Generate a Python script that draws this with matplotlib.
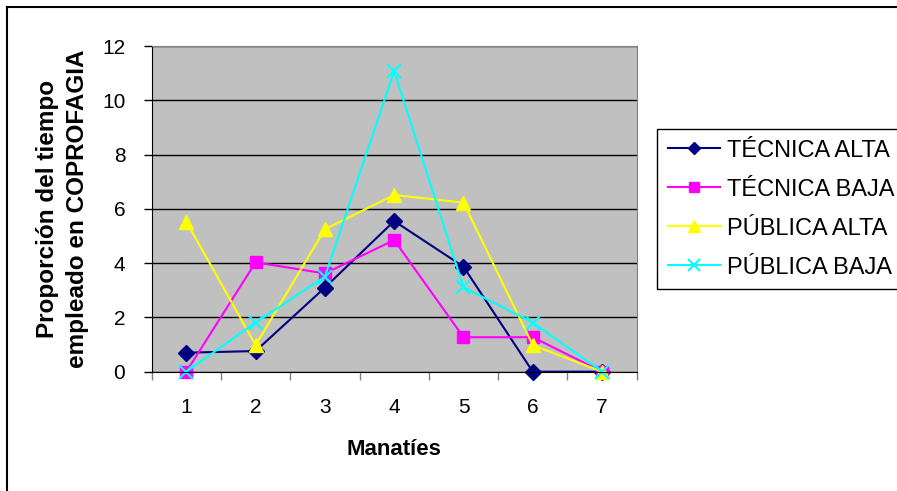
import matplotlib
matplotlib.use('Agg')
import matplotlib.pyplot as plt
from matplotlib.lines import Line2D

plt.rcParams['font.family'] = ['Liberation Sans', 'DejaVu Sans']

manaties = [1, 2, 3, 4, 5, 6, 7]
tecnica_alta = [0.70, 0.76, 3.10, 5.55, 3.87, 0.0, 0.0]
tecnica_baja = [0.0, 4.03, 3.62, 4.85, 1.27, 1.27, 0.0]
publica_alta = [5.53, 0.98, 5.25, 6.51, 6.23, 0.98, 0.0]
publica_baja = [0.0, 1.81, 3.50, 11.08, 3.11, 1.81, 0.0]
y_ticks = [0, 2, 4, 6, 8, 10, 12]

fig = plt.figure(figsize=(8.97, 4.91), dpi=100)
ax = fig.add_axes([0.1691, 0.2430, 0.5407, 0.6633])
ax.set_facecolor('#C0C0C0')

ax.plot(manaties, tecnica_alta, color='#000080', marker='D', markersize=8, linewidth=1.5, label='TÉCNICA ALTA', clip_on=False)
ax.plot(manaties, tecnica_baja, color='#FF00FF', marker='s', markersize=8.5, linewidth=1.5, label='TÉCNICA BAJA', clip_on=False)
ax.plot(manaties, publica_alta, color='#FFFF00', marker='^', markersize=10, linewidth=1.5, label='PÚBLICA ALTA', clip_on=False)
ax.plot(manaties, publica_baja, color='#00FFFF', marker='x', markersize=10, markeredgewidth=1.5, linewidth=1.5, label='PÚBLICA BAJA', clip_on=False)

ax.set_xlim(0.5, 7.5)
ax.set_ylim(0, 12)
ax.set_yticks(y_ticks)
ax.set_xticks(manaties)
ax.set_xticks([i + 0.5 for i in range(0, 8)], minor=True)
ax.tick_params(axis='x', which='major', length=0, pad=19, labelsize=15)
ax.tick_params(axis='x', which='minor', length=6, width=1, color='#808080', direction='out')
ax.tick_params(axis='y', length=6, width=1, direction='out', pad=13, labelsize=15)

ax.set_axisbelow(True)
ax.yaxis.grid(True, color='black', linewidth=1)
for side in ['top', 'right']:
    ax.spines[side].set_color('#808080')
for side in ['left', 'bottom']:
    ax.spines[side].set_color('black')

ax.set_xlabel('Manatíes', fontsize=16, fontweight='bold', labelpad=16)
ax.set_ylabel('Proporción del tiempo\nempleado en COPROFAGIA', fontsize=17.5, fontweight='bold', labelpad=9, linespacing=1.4)

leg = ax.legend(loc='upper left', bbox_to_anchor=(657 / 897, 1 - 129 / 491), bbox_transform=fig.transFigure,
                fontsize=17, frameon=True, fancybox=False, framealpha=1, edgecolor='black',
                handlelength=2.2, handletextpad=0.3, labelspacing=0.72, borderpad=0.45, markerscale=0.8,
                borderaxespad=0)
leg.get_frame().set_linewidth(1)

# outer chart border
fig.add_artist(Line2D([6.5 / 897, 6.5 / 897], [0, 1 - 7 / 491], transform=fig.transFigure, color='black', linewidth=1.5))
fig.add_artist(Line2D([6.5 / 897, 1], [1 - 7 / 491, 1 - 7 / 491], transform=fig.transFigure, color='black', linewidth=1.5))

fig.savefig('out.png', dpi=100)
